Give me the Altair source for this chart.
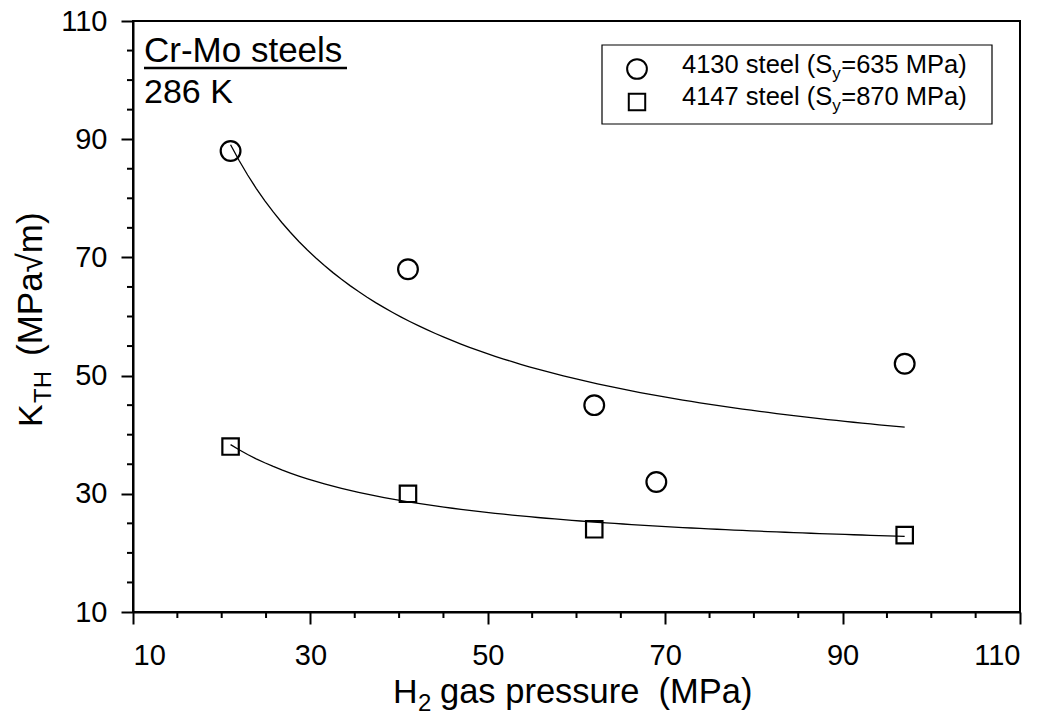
import altair as alt
import numpy as np
import pandas as pd

FONT = "Liberation Sans"

# ---- data ----
series_names = ["4130", "4147"]
x_4130 = [21, 41, 62, 69, 97]
y_4130 = [88, 68, 45, 32, 52]
x_4147 = [21, 41, 62, 97]
y_4147 = [38, 30, 24, 23]

x_major = [10, 30, 50, 70, 90, 110]
y_major = [10, 30, 50, 70, 90, 110]
minor_vals = [v for v in range(10, 111, 5) if v not in x_major]

pts = pd.DataFrame({
    "x": x_4130 + x_4147,
    "y": y_4130 + y_4147,
    "series": ["4130"] * len(x_4130) + ["4147"] * len(x_4147),
})

# least-squares fit y = a + b/x for each series (curve drawn through the data range)
fit_rows = []
for name, xs, ys in [("4130", x_4130, y_4130), ("4147", x_4147, y_4147)]:
    xs_a = np.array(xs, dtype=float)
    b, a = np.polyfit(1.0 / xs_a, np.array(ys, dtype=float), 1)
    grid = np.linspace(xs_a.min(), xs_a.max(), 80)
    for gx in grid:
        fit_rows.append({"x": gx, "y": a + b / gx, "series": name})
fit = pd.DataFrame(fit_rows)

W, H = 887, 591
xscale = alt.Scale(domain=[10, 110], nice=False, zero=False)
yscale = alt.Scale(domain=[10, 110], nice=False, zero=False)

ax_common = dict(
    grid=False, tickSize=12, tickWidth=2, domainWidth=2,
    domainColor="black", tickColor="black", labelColor="black",
    labelFont=FONT, labelFontSize=29, title=None,
)
XAX = alt.Axis(values=x_major, labelPadding=17, **ax_common)
YAX = alt.Axis(values=y_major, labelPadding=14, **ax_common)

points = alt.Chart(pts).mark_point(filled=False, strokeWidth=2.2, color="black", opacity=1).encode(
    x=alt.X("x:Q", scale=xscale, axis=XAX),
    y=alt.Y("y:Q", scale=yscale, axis=YAX),
    shape=alt.Shape("series:N", scale=alt.Scale(domain=series_names, range=["circle", "square"]), legend=None),
    size=alt.Size("series:N", scale=alt.Scale(domain=series_names, range=[390, 270]), legend=None),
)

curves = alt.Chart(fit).mark_line(color="black", strokeWidth=1.3).encode(
    x=alt.X("x:Q", scale=xscale, axis=XAX),
    y=alt.Y("y:Q", scale=yscale, axis=YAX),
    detail="series:N",
)

minor_df = pd.DataFrame({"v": minor_vals})
minor_x = alt.Chart(minor_df).mark_rule(color="black", strokeWidth=2).encode(
    x=alt.X("v:Q", scale=xscale, axis=XAX),
    y=alt.value(H), y2=alt.value(H + 6),
)
minor_y = alt.Chart(minor_df).mark_rule(color="black", strokeWidth=2).encode(
    y=alt.Y("v:Q", scale=yscale, axis=YAX),
    x=alt.value(0), x2=alt.value(-6),
)

OX, OY = 133, 21  # plot origin in page pixels


def txt(s, X, Y, size, angle=0, align="left", baseline="alphabetic"):
    kw = dict(font=FONT, fontSize=size, align=align, baseline=baseline, color="black")
    if angle:
        kw["angle"] = angle
    return alt.Chart(pd.DataFrame({"t": [s]})).mark_text(**kw).encode(
        text="t:N", x=alt.value(X - OX), y=alt.value(Y - OY)
    )


layers = [minor_x, minor_y, curves, points]

NB = "\u00a0"
# x axis title: H2 gas pressure  (MPa)
layers += [
    txt("H", 393, 703, 34),
    txt("2", 418, 711, 24),
    txt("gas pressure" + NB + NB + "(MPa)", 440, 703, 34.5),
]

# y axis title: K_TH  (MPa√m)  (rotated)
ys0 = 427
layers += [
    txt("K", 42, ys0, 34, angle=270),
    txt("TH", 51, ys0 - 24, 24, angle=270),
    txt("(MPa√m)", 42, ys0 - 24 - 33 - 14, 35, angle=270),
]

# annotation
layers += [
    txt("Cr-Mo steels", 144, 62, 35),
    txt("286 K", 144, 103, 34),
    alt.Chart(pd.DataFrame({"a": [0]})).mark_rule(color="black", strokeWidth=2.5).encode(
        x=alt.value(144 - OX), x2=alt.value(347 - OX), y=alt.value(68 - OY)
    ),
]

# legend box
legend_box = alt.Chart(pd.DataFrame({"a": [0]})).mark_rect(
    fill="white", stroke="black", strokeWidth=1.2
).encode(
    x=alt.value(602 - OX), x2=alt.value(992 - OX), y=alt.value(45 - OY), y2=alt.value(124 - OY)
)
leg_sym1 = alt.Chart(pd.DataFrame({"a": [0]})).mark_point(
    shape="circle", size=390, filled=False, strokeWidth=2, color="black", opacity=1
).encode(x=alt.value(637 - OX), y=alt.value(69 - OY))
leg_sym2 = alt.Chart(pd.DataFrame({"a": [0]})).mark_point(
    shape="square", size=270, filled=False, strokeWidth=2, color="black", opacity=1
).encode(x=alt.value(637 - OX), y=alt.value(102 - OY))

layers += [legend_box, leg_sym1, leg_sym2]
LX = 682
FS = 25.5
for (lbl, val, base) in [("4130 steel (S", "=635 MPa)", 73), ("4147 steel (S", "=870 MPa)", 105)]:
    w1 = 5.892 * FS
    layers += [
        txt(lbl, LX, base, FS),
        txt("y", LX + w1, base + 6, 17),
        txt(val, LX + w1 + 9, base, FS),
    ]

chart = alt.layer(*layers).properties(
    width=W, height=H,
    autosize=alt.AutoSizeParams(type="none"),
    padding={"left": OX, "top": OY, "right": 1052 - OX - W, "bottom": 715 - OY - H},
).configure(
    font=FONT, background="white",
    view=alt.ViewConfig(stroke="black", strokeWidth=2),
)

chart.save("out.html", embed_options={"renderer": "svg", "actions": False})
